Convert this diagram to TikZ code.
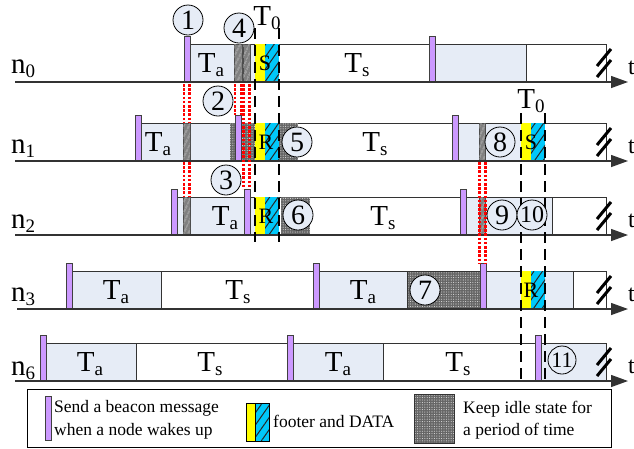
\documentclass[tikz,border=0pt]{standalone}
\usepackage{fontspec}
\setmainfont{Liberation Serif}
\usetikzlibrary{patterns,patterns.meta,arrows.meta}
\definecolor{lb}{RGB}{230,236,246}
\definecolor{bcn}{RGB}{204,153,255}
\definecolor{cy}{RGB}{0,200,250}
\definecolor{yl}{RGB}{255,255,0}
\newcommand\fT{\fontsize{29}{32}\selectfont}
\newcommand\fsub{\fontsize{19}{20}\selectfont}
\newcommand\lbl[2]{{\fT #1}\raisebox{-4.5pt}{\fsub #2}}
\newcommand\bcnat[2]{\path[beaconbox] (#1,#2-46) rectangle (#1+6,#2);}
\newcommand\dslash[1]{\draw[slash] (597,#1-5) -- (611,#1-22); \draw[slash] (597,#1-16) -- (611,#1-33);}
\tikzset{
  cell/.style={draw=black!80, line width=0.8pt},
  lbcell/.style={cell, fill=lb},
  beaconbox/.style={draw=black!75, line width=0.8pt, fill=bcn},
  yel/.style={fill=yl},
  cyn/.style={fill=cy, postaction={pattern={Lines[angle=55,distance=7pt,line width=1pt]}, pattern color=black!85}},
  grayhatch/.style={fill=gray, postaction={pattern={Lines[angle=65,distance=4pt,line width=0.8pt]}, pattern color=gray!35}, draw=black!70, line width=0.6pt},
  idle/.style={fill=black!60, postaction={pattern={Dots[distance=2.4pt,radius=0.55pt]}, pattern color=white!85!black}},
  axisline/.style={draw=black!80, line width=1.3pt, -{Triangle[length=17pt,width=12pt]}},
  reddot/.style={draw=red, line width=2.2pt, dash pattern=on 2.6pt off 1.6pt},
  tdash/.style={draw=black, line width=1.6pt, dash pattern=on 11pt off 6pt},
  slash/.style={draw=black, line width=3pt},
  lab/.style={inner sep=0, anchor=base},
  num/.style={circle, draw=black, line width=0.8pt, fill=lb, minimum size=30pt, inner sep=0, font=\fontsize{28}{28}\selectfont},
  sr/.style={inner sep=0, font=\fontsize{22}{22}\selectfont},
  lgtext/.style={inner sep=0, anchor=base west, font=\fontsize{17.5}{20}\selectfont}
}
\begin{document}
\begin{tikzpicture}[x=1pt,y=-1pt]
\useasboundingbox (0,0) rectangle (634,448);
\fill[white] (0,0) rectangle (634,448);

% ---------- row n0 (axis 82) ----------
\draw[cell, fill=white] (190,44) rectangle (606,82);
\draw[lbcell] (190,44) rectangle (255,82);
\path[grayhatch] (234,44) rectangle (242,82);
\path[grayhatch] (243,44) rectangle (250,82);
\path[yel] (255,44) rectangle (265,82);
\path[cyn] (265,44) rectangle (279,82);
\draw[lbcell] (435,44) rectangle (526,82);
\bcnat{184}{82}
\bcnat{429}{82}
\coordinate (s0) at (15,82); \coordinate (e0) at (628,82);
\draw[axisline] (s0) -- (e0);
\dslash{82}

% ---------- row n1 (axis 161) ----------
\draw[cell, fill=white] (141,123) rectangle (606,161);
\draw[lbcell] (141,123) rectangle (230,161);
\path[grayhatch] (183,123) rectangle (190,161);
\path[idle] (230,123) rectangle (255,161);
\path[yel] (255,123) rectangle (265,161);
\path[cyn] (265,123) rectangle (279,161);
\path[idle] (279,123) rectangle (298,161);
\draw[lbcell] (458,123) rectangle (521,161);
\path[grayhatch] (479,123) rectangle (485,161);
\path[yel] (521,123) rectangle (531,161);
\path[cyn] (531,123) rectangle (545,161);
\bcnat{135}{161}
\bcnat{235}{161}
\bcnat{452}{161}
\coordinate (s1) at (15,161); \coordinate (e1) at (628,161);
\draw[axisline] (s1) -- (e1);
\dslash{161}

% ---------- row n2 (axis 235) ----------
\draw[cell, fill=white] (177,197) rectangle (606,235);
\draw[lbcell] (177,197) rectangle (255,235);
\path[grayhatch] (183,197) rectangle (190,235);
\path[yel] (255,197) rectangle (265,235);
\path[cyn] (265,197) rectangle (279,235);
\path[idle] (281,197) rectangle (310,235);
\draw[lbcell] (466,197) rectangle (552,235);
\path[grayhatch] (479,197) rectangle (485,235);
\bcnat{171}{235}
\bcnat{244}{235}
\bcnat{460}{235}
\coordinate (s2) at (15,235); \coordinate (e2) at (628,235);
\draw[axisline] (s2) -- (e2);
\dslash{235}

% ---------- row n3 (axis 309) ----------
\draw[cell, fill=white] (72,271) rectangle (606,309);
\draw[lbcell] (72,271) rectangle (161,309);
\draw[lbcell] (319,271) rectangle (407,309);
\path[idle] (407,271) rectangle (480,309);
\draw[cell] (407,271) rectangle (480,309);
\draw[lbcell] (486,271) rectangle (573,309);
\path[yel] (521,271) rectangle (531,309);
\path[cyn] (531,271) rectangle (545,309);
\bcnat{66}{309}
\bcnat{313}{309}
\bcnat{480}{309}
\coordinate (s3) at (17,309); \coordinate (e3) at (628,309);
\draw[axisline] (s3) -- (e3);
\dslash{309}

% ---------- row n6 (axis 381) ----------
\draw[cell, fill=white] (46,343) rectangle (606,381);
\draw[lbcell] (46,343) rectangle (136,381);
\draw[lbcell] (293,343) rectangle (383,381);
\draw[lbcell] (541,343) rectangle (606,381);
\bcnat{40}{381}
\bcnat{287}{381}
\bcnat{535}{381}
\coordinate (s6) at (15,381); \coordinate (e6) at (628,381);
\draw[axisline] (s6) -- (e6);
\dslash{381}

% ---------- red dotted links ----------
\draw[reddot] (184,84) -- (184,123);
\draw[reddot] (189.5,84) -- (189.5,123);
\draw[reddot] (184,162) -- (184,197);
\draw[reddot] (189.5,162) -- (189.5,197);
\draw[reddot] (235,84) -- (235,115);
\draw[reddot] (241,84) -- (241,115);
\draw[reddot] (243.5,84) -- (243.5,189);
\draw[reddot] (249.5,84) -- (249.5,189);
\draw[reddot] (479.5,162) -- (479.5,264);
\draw[reddot] (485.5,162) -- (485.5,264);

% ---------- T0 dashed lines ----------
\draw[tdash] (255,28) -- (255,242);
\draw[tdash] (279,28) -- (279,242);
\draw[tdash] (521,113) -- (521,385);
\draw[tdash] (545,113) -- (545,385);

% ---------- labels ----------
\node[lab, anchor=base west] (ln0) at (11,73) {\lbl{n}{0}};
\node[lab, anchor=base west] (ln1) at (11,153) {\lbl{n}{1}};
\node[lab, anchor=base west] (ln2) at (11,228) {\lbl{n}{2}};
\node[lab, anchor=base west] (ln3) at (11,301) {\lbl{n}{3}};
\node[lab, anchor=base west] (ln6) at (11,375) {\lbl{n}{6}};

\node[lab] (t00) at (267,25) {\lbl{T}{0}};
\node[lab] (t01) at (531,108) {\lbl{T}{0}};

\node[lab] (a0) at (211,72) {\lbl{T}{a}};
\node[lab] (b0) at (357,72) {\lbl{T}{s}};
\node[lab] (a1) at (158,151) {\lbl{T}{a}};
\node[lab] (b1) at (375,151) {\lbl{T}{s}};
\node[lab] (a2) at (225,225) {\lbl{T}{a}};
\node[lab] (b2) at (383,225) {\lbl{T}{s}};
\node[lab] (a3) at (116,299) {\lbl{T}{a}};
\node[lab] (b3) at (238,299) {\lbl{T}{s}};
\node[lab] (a3b) at (363,299) {\lbl{T}{a}};
\node[lab] (a6) at (90,371) {\lbl{T}{a}};
\node[lab] (b6) at (210,371) {\lbl{T}{s}};
\node[lab] (a6b) at (338,371) {\lbl{T}{a}};
\node[lab] (b6b) at (458,371) {\lbl{T}{s}};

\node[sr] (s0l) at (265,63) {S};
\node[sr] (r1) at (266,142) {R};
\node[sr] (r2) at (266,216) {R};
\node[sr] (s1l) at (531,142) {S};
\node[sr] (r3) at (531,290) {R};

\node[lab, anchor=base west, font=\fontsize{24}{24}\selectfont] (tt0) at (628,74) {t};
\node[lab, anchor=base west, font=\fontsize{24}{24}\selectfont] (tt1) at (628,153) {t};
\node[lab, anchor=base west, font=\fontsize{24}{24}\selectfont] (tt2) at (628,227) {t};
\node[lab, anchor=base west, font=\fontsize{24}{24}\selectfont] (tt3) at (628,301) {t};
\node[lab, anchor=base west, font=\fontsize{24}{24}\selectfont] (tt6) at (628,373) {t};

% ---------- numbered circles ----------
\node[num] (c1) at (188,20) {1};
\node[num] (c2) at (218,101) {2};
\node[num] (c3) at (226,180) {3};
\node[num] (c4) at (239,28) {4};
\node[num] (c5) at (297,142) {5};
\node[num] (c6) at (298,215) {6};
\node[num] (c7) at (425,290) {7};
\node[num] (c8) at (500,142) {8};
\node[num] (c9) at (502,215) {9};
\node[num, font=\fontsize{24}{24}\selectfont] (c10) at (532,215) {10};
\node[num, font=\fontsize{22}{22}\selectfont, minimum size=28pt] (c11) at (562,360) {11};

% ---------- legend ----------
\draw[black, line width=0.8pt, fill=white] (27,389) rectangle (611,447);
\path[beaconbox] (45,396) rectangle (51,440);
\node[lgtext] (lg1a) at (54,412) {Send a beacon message};
\node[lgtext] (lg1b) at (54,435) {when a node wakes up};
\path[yel] (246,403) rectangle (255,441);
\path[cyn] (255,403) rectangle (269,441);
\draw[black, line width=0.6pt] (246,403) rectangle (269,441);
\draw[black, line width=0.6pt] (255,403) -- (255,441);
\node[lgtext] (lg2) at (273,427) {footer and DATA};
\path[idle] (414,394) rectangle (454,443);
\draw[black!80, line width=0.6pt] (414,394) rectangle (454,443);
\node[lgtext] (lg3a) at (463,413) {Keep idle state for};
\node[lgtext] (lg3b) at (463,435) {a period of time};
\end{tikzpicture}
\end{document}
